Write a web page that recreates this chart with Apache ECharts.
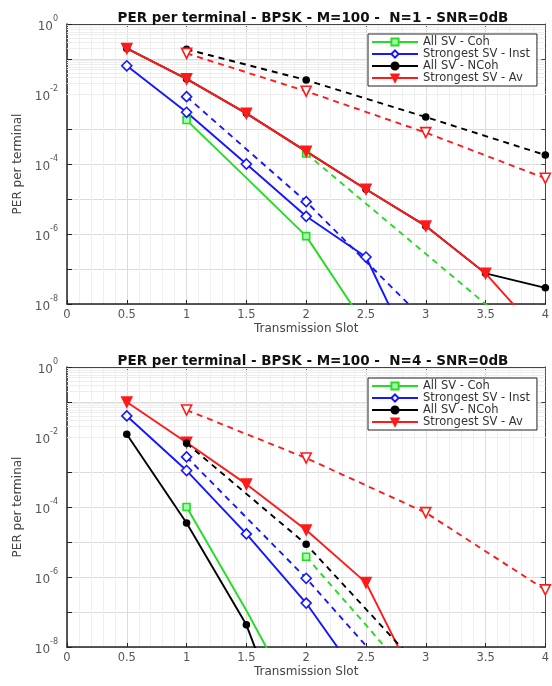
<!DOCTYPE html>
<html><head><meta charset="utf-8">
<script src="https://cdn.jsdelivr.net/npm/echarts@6/dist/echarts.min.js"></script>
<style>html,body{margin:0;padding:0;background:#fff}#c{width:552px;height:686px}</style>
</head><body><div id="c"></div>
<script>
// ---------- data ----------
const slots = [0.5, 1, 1.5, 2, 2.5, 3, 3.5, 4];
const legendNames = ['All SV - Coh', 'Strongest SV - Inst', 'All SV - NCoh', 'Strongest SV - Av'];
const titles = ['PER per terminal - BPSK - M=100 -  N=1 - SNR=0dB', 'PER per terminal - BPSK - M=100 -  N=4 - SNR=0dB'];
const xName = 'Transmission Slot';
const yName = 'PER per terminal';

// N = 1
const n1CohSolid   = [null, 1.8e-3, 4.0e-5, 8.7e-7, 2.3e-9, null, null, null];
const n1InstSolid  = [6.4e-2, 3.0e-3, 1.0e-4, 3.2e-6, 2.2e-7, 6e-11, null, null];
const n1NCohSolid  = [0.2, 2.7e-2, 2.8e-3, 2.3e-4, 1.9e-5, 1.7e-6, 7.5e-8, 2.9e-8];
const n1AvSolid    = [0.2, 2.7e-2, 2.8e-3, 2.3e-4, 1.9e-5, 1.7e-6, 7.5e-8, 9.3e-10];
const n1CohDash    = [null, null, null, 2.0e-4, null, null, 1.0e-8, 3.7e-10];
const n1InstDash   = [null, 8.4e-3, null, 8.4e-6, null, 3.2e-9, null, null];
const n1NCohDash   = [null, 0.19, null, 2.5e-2, null, 2.2e-3, null, 1.8e-4];
const n1AvDash     = [null, 0.145, null, 1.2e-2, null, 7.9e-4, null, 3.9e-5];

// N = 4
const n4CohSolid   = [null, 1.0e-4, 1.1e-7, 7.9e-11, null, null, null, null];
const n4InstSolid  = [4.0e-2, 1.1e-3, 1.7e-5, 1.8e-7, 7.0e-10, null, null, null];
const n4NCohSolid  = [1.2e-2, 3.5e-5, 4.3e-8, 1.3e-12, null, null, null, null];
const n4AvSolid    = [0.1, 7.0e-3, 4.5e-4, 2.2e-5, 6.9e-7, 2.7e-10, null, null];
const n4CohDash    = [null, null, null, 3.8e-6, null, 4.7e-10, null, null];
const n4InstDash   = [null, 2.7e-3, null, 9.2e-7, null, 1.3e-10, null, null];
const n4NCohDash   = [null, 6.6e-3, null, 8.6e-6, null, 1.7e-9, null, null];
const n4AvDash     = [null, 5.9e-2, null, 2.5e-3, null, 6.9e-5, null, 4.3e-7];

// ---------- styles ----------
const GREEN = '#22dd22', BLUE = '#1616ff', BLACK = '#000000', RED = '#ff1a1a';
const FONT = 'DejaVu Sans';
const styles = {
  coh:  {color: GREEN, symbol: 'rect', size: 7, fill: '#aaffaa', rot: 0},
  inst: {color: BLUE, symbol: 'diamond', size: 10, fill: '#ffffff', rot: 0},
  ncoh: {color: BLACK, symbol: 'circle', size: 6, fill: BLACK, rot: 0},
  av:   {color: RED, symbol: 'triangle', size: 10, fill: RED, rot: 180}
};

function makeSeries(name, key, vals, dashed, markAt, grid, z) {
  const st = styles[key];
  const fill = dashed && key === 'av' ? '#ffffff' : st.fill;
  return {
    type: 'line', name: name, xAxisIndex: grid, yAxisIndex: grid,
    connectNulls: true, clip: true, z: z,
    symbol: st.symbol, symbolSize: st.size, symbolRotate: st.rot, showAllSymbol: true,
    lineStyle: {color: st.color, width: 1.9, type: dashed ? [6, 5] : 'solid'},
    itemStyle: {color: fill, borderColor: st.color, borderWidth: 1.6},
    emphasis: {disabled: true},
    data: slots.map((x, i) => vals[i] == null ? [x, null] :
      {value: [x, vals[i]], symbol: markAt.includes(x) ? st.symbol : 'none'})
  };
}

const ALL = slots;
const INT = [1, 2, 3, 4];

const minorVals = [];
for (let k = -8; k <= -1; k++) for (let m = 2; m <= 9; m++) minorVals.push({yAxis: m * Math.pow(10, k)});

function gridLinesSeries(grid) {
  return {
    type: 'line', name: '_grid' + grid, xAxisIndex: grid, yAxisIndex: grid, data: [], z: 1, silent: true,
    markLine: {silent: true, z: 1, symbol: ['none', 'none'], label: {show: false}, animation: false,
      lineStyle: {color: '#ededed', width: 1, type: 'solid'}, emphasis: {disabled: true}, data: minorVals}
  };
}

const series = [
  gridLinesSeries(0), gridLinesSeries(1),
  // N=1
  makeSeries(legendNames[0], 'coh',  n1CohSolid,  false, [1, 2], 0, 3),
  makeSeries(legendNames[1], 'inst', n1InstSolid, false, ALL, 0, 3),
  makeSeries(legendNames[2], 'ncoh', n1NCohSolid, false, ALL, 0, 3),
  makeSeries(legendNames[3], 'av',   n1AvSolid,   false, ALL, 0, 4),
  makeSeries(legendNames[0], 'coh',  n1CohDash,   true, [2], 0, 3),
  makeSeries(legendNames[1], 'inst', n1InstDash,  true, [1, 2], 0, 3),
  makeSeries(legendNames[2], 'ncoh', n1NCohDash,  true, INT, 0, 3),
  makeSeries(legendNames[3], 'av',   n1AvDash,    true, INT, 0, 3),
  // N=4
  makeSeries(legendNames[0], 'coh',  n4CohSolid,  false, [1, 2], 1, 3),
  makeSeries(legendNames[1], 'inst', n4InstSolid, false, ALL, 1, 3),
  makeSeries(legendNames[2], 'ncoh', n4NCohSolid, false, ALL, 1, 3),
  makeSeries(legendNames[3], 'av',   n4AvSolid,   false, ALL, 1, 3),
  makeSeries(legendNames[0], 'coh',  n4CohDash,   true, [2], 1, 3),
  makeSeries(legendNames[1], 'inst', n4InstDash,  true, [1, 2], 1, 3),
  makeSeries(legendNames[2], 'ncoh', n4NCohDash,  true, INT, 1, 4),
  makeSeries(legendNames[3], 'av',   n4AvDash,    true, INT, 1, 3)
];

const grids = [
  {left: 67, top: 24, width: 483, height: 280},
  {left: 67, top: 367, width: 483, height: 280}
];

function xAxisMain(g) {
  return {
    type: 'value', gridIndex: g, min: 0, max: 4, interval: 0.5, position: 'bottom',
    name: xName, nameLocation: 'middle', nameGap: 19,
    nameTextStyle: {fontFamily: FONT, fontSize: 12, color: '#444'},
    axisLine: {show: true, onZero: false, lineStyle: {color: '#222', width: 1.5}},
    axisTick: {show: true, inside: true, length: 4, lineStyle: {color: '#222'}},
    axisLabel: {fontFamily: FONT, fontSize: 11.5, color: '#555', margin: 5},
    splitLine: {show: true, lineStyle: {color: '#dcdcdc', width: 1}},
    minorTick: {show: false, splitNumber: 5},
    minorSplitLine: {show: true, lineStyle: {color: '#efefef', width: 1}}
  };
}
function xAxisTop(g) {
  return {
    type: 'value', gridIndex: g, min: 0, max: 4, interval: 0.5, position: 'top',
    axisLine: {show: true, onZero: false, lineStyle: {color: '#444', width: 1}},
    axisTick: {show: true, inside: true, length: 4, lineStyle: {color: '#444'}},
    axisLabel: {show: false}, splitLine: {show: false}
  };
}
function yLabel(v) {
  const e = Math.round(Math.log10(v));
  if (e % 2 !== 0) return '';
  return '{b|10}{s|' + e + '}';
}
function yAxisMain(g) {
  return {
    type: 'log', logBase: 10, gridIndex: g, min: 1e-8, max: 1, splitNumber: 8, position: 'left',
    name: yName, nameLocation: 'middle', nameGap: 43,
    nameTextStyle: {fontFamily: FONT, fontSize: 12, color: '#444'},
    axisLine: {show: true, onZero: false, lineStyle: {color: '#222', width: 1.5}},
    axisTick: {show: true, inside: true, length: 5, lineStyle: {color: '#222'}},
    axisLabel: {formatter: yLabel, margin: 9, color: '#555',
      rich: {b: {fontFamily: FONT, fontSize: 12, color: '#555', verticalAlign: 'bottom', padding: [6, 0, 0, 0]},
             s: {fontFamily: FONT, fontSize: 8, color: '#555', verticalAlign: 'top', padding: [0, 0, 6, 0]}}},
    splitLine: {show: true, lineStyle: {color: '#dcdcdc', width: 1}}
  };
}
function yAxisRight(g) {
  return {
    type: 'log', logBase: 10, gridIndex: g, min: 1e-8, max: 1, splitNumber: 8, position: 'right',
    axisLine: {show: true, onZero: false, lineStyle: {color: '#444', width: 1}},
    axisTick: {show: true, inside: true, length: 4, lineStyle: {color: '#444'}},
    axisLabel: {show: false}, splitLine: {show: false}
  };
}

function legendAt(top) {
  return {
    data: legendNames, orient: 'vertical', left: 368, top: top, z: 20,
    itemWidth: 46, itemHeight: 9, itemGap: 0, padding: [2, 7, 2, 3],
    borderColor: '#222', borderWidth: 1, backgroundColor: '#ffffff',
    selectedMode: false,
    textStyle: {fontFamily: FONT, fontSize: 11.5, color: '#333'}
  };
}

const option = {
  backgroundColor: '#ffffff',
  animation: false,
  title: [
    {text: titles[0], left: 308, top: 6, textAlign: 'center',
     textStyle: {fontFamily: FONT, fontSize: 13.5, fontWeight: 'bold', color: '#111'}},
    {text: titles[1], left: 308, top: 349, textAlign: 'center',
     textStyle: {fontFamily: FONT, fontSize: 13.5, fontWeight: 'bold', color: '#111'}}
  ],
  legend: [legendAt(34), legendAt(378)],
  grid: grids.map(g => Object.assign({containLabel: false}, g)),
  xAxis: [xAxisMain(0), xAxisMain(1), xAxisTop(0), xAxisTop(1)],
  yAxis: [yAxisMain(0), yAxisMain(1), yAxisRight(0), yAxisRight(1)],
  series: series
};

const chart = echarts.init(document.getElementById('c'), null, {renderer: 'canvas'});
chart.setOption(option);
</script>
</body></html>
